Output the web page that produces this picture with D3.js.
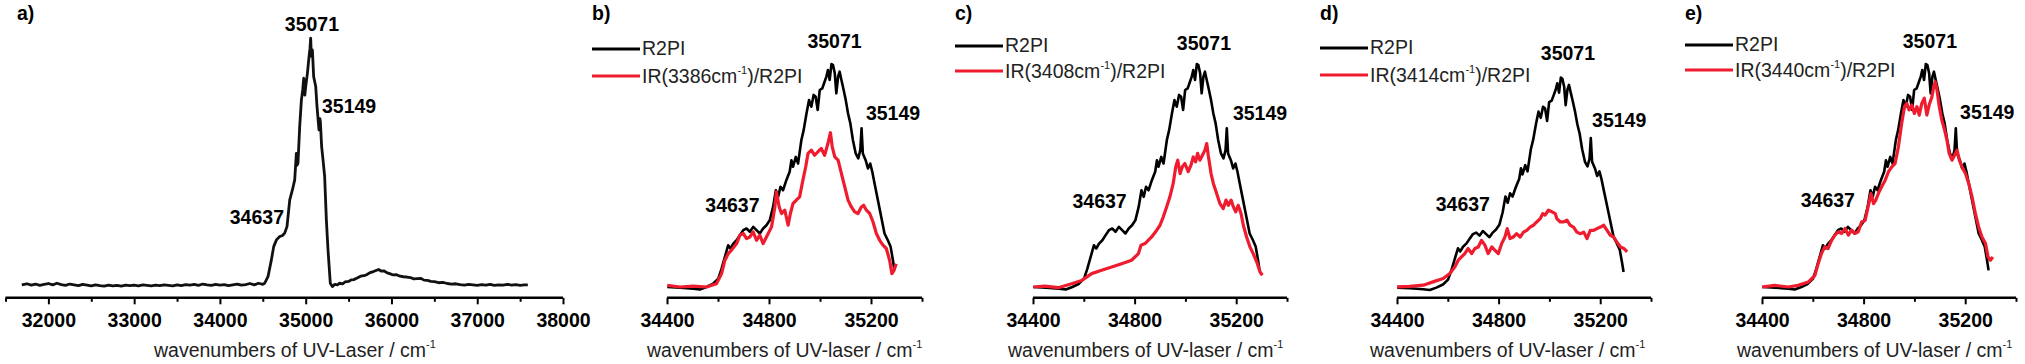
<!DOCTYPE html>
<html>
<head>
<meta charset="utf-8">
<script src="https://cdn.jsdelivr.net/npm/d3@7"></script>
<style>
  body { margin: 0; background: #fff; }
  svg { display: block; font-family: "Liberation Sans", Arial, sans-serif; }
</style>
</head>
<body>
<script>
// ---- data (wavenumber / cm-1, intensity in arb. units, R2PI peak = 100) ----
const spectrumA = [
  [31690,5.0],[31750,5.4],[31800,4.9],[31850,5.3],[31900,4.8],[31950,5.2],[32000,5.5],[32050,5.0],[32100,5.6],[32150,5.1],
  [32200,4.8],[32250,5.3],[32300,5.0],[32350,4.7],[32400,5.2],[32450,4.9],[32500,4.6],[32550,5.0],[32600,4.7],[32650,4.5],
  [32700,4.9],[32750,4.6],[32800,4.8],[32850,4.5],[32900,4.9],[32950,4.7],[33000,4.9],[33050,4.6],[33100,5.0],[33150,4.8],
  [33200,4.6],[33250,4.9],[33300,4.7],[33350,5.0],[33400,4.8],[33450,4.6],[33500,5.0],[33550,4.7],[33600,5.1],[33650,4.9],
  [33700,5.2],[33750,4.8],[33800,5.3],[33850,5.0],[33900,4.8],[33950,5.2],[34000,4.9],[34050,5.1],[34100,4.7],[34150,5.0],
  [34200,5.3],[34250,4.9],[34300,5.1],[34350,5.5],[34400,5.0],[34450,5.6],[34500,5.2],
  [34522,5.6],[34561,8.2],[34600,14.6],[34627,19.7],[34659,22.3],[34697,23.6],[34730,24.0],[34755,24.9],[34782,27.4],
  [34814,37.7],[34845,41.5],[34872,45.4],[34891,55.6],[34900,51.0],[34910,51.8],[34930,65.9],[34950,76.2],[34965,80.0],
  [34977,84.5],[34990,78.0],[35000,81.3],[35020,86.4],[35039,92.8],[35050,96.0],[35058,99.9],[35066,93.0],[35078,95.4],
  [35093,85.1],[35117,81.3],[35132,73.6],[35155,64.6],[35165,69.0],[35171,67.8],[35186,58.2],[35202,53.1],[35221,46.7],
  [35241,30.0],[35260,18.5],[35287,5.6],[35311,4.3],
  [35340,5.2],[35370,5.0],[35396,5.6],[35430,5.4],[35460,6.1],[35500,6.3],[35530,6.9],[35560,7.0],[35600,7.6],[35640,8.3],
  [35680,8.5],[35710,8.9],[35750,9.7],[35790,10.1],[35820,10.5],[35850,10.9],[35880,10.3],[35910,10.4],[35950,9.6],[35980,9.3],
  [36020,8.8],[36060,8.9],[36100,8.3],[36140,8.1],[36180,8.0],[36220,7.8],[36260,7.3],[36300,7.4],[36340,7.5],[36380,6.8],
  [36420,6.7],[36460,6.3],[36500,6.2],[36550,5.8],[36600,5.9],[36650,5.5],[36700,5.3],[36750,5.4],[36800,5.1],[36850,4.9],
  [36900,5.2],[36950,5.0],[37000,4.8],[37050,5.1],[37100,4.9],[37150,5.2],[37200,4.8],[37250,5.0],[37300,4.9],[37350,5.2],
  [37400,4.9],[37450,5.1],[37500,4.8],[37550,5.0],[37590,5.0]
];

const r2pi = [
  [34401,4.6],[34451,4.3],[34503,3.9],[34529,3.5],[34555,4.6],[34581,6.0],[34601,8.2],[34614,12.4],[34627,17.4],[34640,22.4],
  [34649,21.0],[34660,23.1],[34673,24.5],[34686,26.7],[34699,28.8],[34712,29.5],[34725,28.1],[34738,30.2],[34751,28.8],[34764,27.4],
  [34777,29.5],[34790,30.9],[34803,33.0],[34816,38.7],[34827,45.8],[34836,43.0],[34845,47.3],[34855,45.8],[34868,50.1],[34881,53.7],
  [34888,58.6],[34894,55.8],[34905,60.0],[34914,57.2],[34927,67.2],[34936,71.4],[34947,78.5],[34957,84.2],[34966,81.4],[34975,86.4],
  [34983,85.6],[34991,80.0],[34999,88.5],[35009,89.2],[35018,92.0],[35025,94.2],[35031,97.0],[35038,92.8],[35045,99.6],[35051,99.1],
  [35058,95.6],[35064,87.1],[35071,94.2],[35077,96.3],[35084,92.8],[35090,89.9],[35101,84.2],[35110,78.5],[35119,74.3],[35129,67.2],
  [35140,61.5],[35150,59.4],[35158,62.9],[35163,72.2],[35168,61.5],[35179,58.6],[35188,55.1],[35197,57.2],[35205,53.7],[35214,48.7],
  [35227,41.6],[35240,34.5],[35253,27.4],[35266,24.5],[35277,21.7],[35286,16.0],[35292,11.7]
];

const ir3386 = [
  [34401,5.3],[34451,4.6],[34503,5.0],[34555,4.6],[34594,6.0],[34614,10.3],[34627,16.0],[34640,18.8],[34653,20.3],[34673,23.1],
  [34686,26.7],[34699,27.4],[34712,25.2],[34725,25.9],[34738,28.1],[34751,24.5],[34764,26.7],[34777,23.1],[34790,25.9],[34810,30.2],
  [34823,38.7],[34829,45.1],[34840,38.7],[34849,35.9],[34862,37.3],[34875,30.9],[34884,35.9],[34894,40.1],[34907,41.6],[34920,43.0],
  [34933,50.1],[34944,55.8],[34953,61.5],[34966,62.9],[34979,60.7],[34992,62.2],[35005,63.6],[35018,60.7],[35031,65.7],[35041,70.3],
  [35048,64.3],[35058,60.0],[35071,58.6],[35084,52.9],[35097,47.3],[35110,41.6],[35123,38.7],[35136,36.6],[35149,35.9],[35162,38.7],
  [35171,39.4],[35182,37.3],[35195,35.9],[35208,32.3],[35221,27.4],[35234,24.5],[35247,22.4],[35260,21.0],[35273,16.0],[35282,10.3],
  [35290,11.7],[35299,14.5]
];

const ir3408 = [
  [34401,4.6],[34447,5.0],[34500,4.3],[34552,6.0],[34592,7.4],[34631,10.3],[34670,11.7],[34710,13.1],[34749,14.5],[34788,16.0],
  [34815,18.8],[34825,22.4],[34841,23.1],[34867,25.9],[34887,28.8],[34900,30.9],[34913,34.5],[34926,38.7],[34939,43.0],[34952,48.7],
  [34962,55.8],[34970,58.6],[34979,52.9],[34988,55.8],[34998,57.2],[35011,53.7],[35022,56.5],[35031,60.0],[35040,57.9],[35048,61.5],
  [35057,58.6],[35067,60.7],[35077,62.9],[35084,65.7],[35090,60.7],[35101,52.9],[35110,48.7],[35123,44.4],[35136,40.1],[35149,38.0],
  [35160,41.6],[35169,39.4],[35180,41.6],[35189,38.7],[35198,36.6],[35208,39.4],[35219,35.9],[35228,30.9],[35241,25.9],[35254,21.7],
  [35267,18.8],[35281,15.2],[35294,11.0],[35303,9.6]
];

const ir3414 = [
  [34400,4.9],[34450,5.2],[34503,5.7],[34542,7.2],[34582,8.7],[34608,11.0],[34628,14.0],[34641,17.0],[34654,18.5],[34667,20.0],
  [34680,22.3],[34694,20.0],[34707,22.3],[34720,23.0],[34733,26.0],[34746,23.8],[34759,20.0],[34773,23.0],[34786,21.5],[34799,20.0],
  [34812,24.5],[34825,27.5],[34834,31.3],[34845,26.8],[34858,27.5],[34871,29.0],[34885,27.5],[34898,29.7],[34911,30.5],[34924,32.0],
  [34937,32.8],[34950,34.3],[34964,35.8],[34974,38.1],[34983,37.4],[34996,39.6],[35010,38.9],[35023,38.1],[35029,35.8],[35043,34.3],
  [35056,34.3],[35069,35.1],[35082,32.8],[35095,32.0],[35108,29.7],[35122,29.0],[35135,29.7],[35148,26.8],[35161,30.5],[35174,30.5],
  [35187,31.3],[35201,32.0],[35214,32.8],[35227,30.5],[35240,28.3],[35253,27.5],[35266,25.2],[35280,23.0],[35293,22.3],[35306,20.8]
];

const ir3440 = [
  [34400,4.6],[34450,5.3],[34503,4.6],[34542,5.3],[34582,6.7],[34608,9.5],[34621,14.5],[34634,18.8],[34647,21.7],[34660,21.0],
  [34674,24.5],[34687,26.7],[34700,28.1],[34714,27.4],[34727,29.5],[34740,26.7],[34753,28.8],[34766,27.4],[34779,28.1],[34792,32.3],
  [34806,33.0],[34819,39.4],[34829,44.4],[34839,40.1],[34848,41.6],[34858,44.4],[34871,47.3],[34885,50.1],[34898,53.7],[34911,55.8],
  [34924,57.2],[34937,64.3],[34950,74.3],[34961,81.4],[34970,82.8],[34979,80.0],[34990,82.1],[35000,78.5],[35010,81.4],[35019,77.8],
  [35029,82.8],[35039,85.0],[35049,77.8],[35058,82.1],[35069,85.6],[35076,89.9],[35082,92.0],[35089,88.5],[35098,81.4],[35108,75.7],
  [35119,71.4],[35128,67.2],[35137,61.5],[35148,58.6],[35158,60.7],[35168,62.9],[35177,58.6],[35187,55.8],[35201,52.9],[35214,48.7],
  [35227,43.0],[35240,35.9],[35253,30.2],[35266,25.9],[35280,23.1],[35290,17.4],[35299,16.0],[35309,17.4]
];

const panelNames = ['a)', 'b)', 'c)', 'd)', 'e)'];
const irLegends = ['3386', '3408', '3414', '3440'];
const irSeries = [ir3386, ir3408, ir3414, ir3440];
const peakLabels = ['35071', '35149', '34637'];
// label anchor points in data space per panel: [wavenumber, intensity]
const peakAnchors = [
  [[35073, 102.7], [35190, 71.3], [34747, 28.5]],
  [[35057, 106.4], [35180, 75.7], [34763, 36.6]],
  [[35073, 105.5], [35187, 75.7], [34769, 38.2]],
  [[35073, 107.6], [35168, 77.2], [34766, 39.4]],
  [[35061, 106.4], [35180, 76.0], [34766, 38.7]]
];

// ---- layout ----
const W = 2025, H = 364;
const AXIS_Y = 297.8;
const RED = '#ee1c2e';
const FONT = 19.5;

const svg = d3.select('body').append('svg').attr('width', W).attr('height', H);

const layout = [
  { x0: 5.5,  x1: 563,  domain: [31500, 38000], top: 38,   labelX: 17,   titleX: 154,  title: 'wavenumbers of UV-Laser / cm',
    major: d3.range(32000, 38001, 1000), minor: d3.range(31500, 38000, 1000), fmt: d => d },
  { x0: 667,  x1: 922,  domain: [34400, 35400], top: 63,   labelX: 592,  titleX: 647,  legY: [55, 83] },
  { x0: 1033, x1: 1287, domain: [34400, 35400], top: 63,   labelX: 955,  titleX: 1008, legY: [52, 78] },
  { x0: 1397, x1: 1651, domain: [34400, 35400], top: 76.7, labelX: 1320, titleX: 1370, legY: [54, 82] },
  { x0: 1762, x1: 2016, domain: [34400, 35400], top: 63,   labelX: 1685, titleX: 1737, legY: [51, 77] }
];
layout.slice(1).forEach(p => {
  p.title = 'wavenumbers of UV-laser / cm';
  p.major = [34400, 34800, 35200];
  p.minor = [34600, 35000, 35400];
  p.fmt = d => d;
});

layout.forEach((p, i) => {
  const x = d3.scaleLinear().domain(p.domain).range([p.x0, p.x1]);
  const y = d3.scaleLinear().domain([0, 100]).range([AXIS_Y, p.top]);
  const g = svg.append('g');

  // axis: minor ticks, then major ticks with labels
  g.append('g').attr('transform', `translate(0,${AXIS_Y})`)
    .call(d3.axisBottom(x).tickValues(p.minor).tickSize(4).tickSizeOuter(0).tickFormat(''))
    .call(a => a.select('.domain').remove());
  const ax = g.append('g').attr('transform', `translate(0,${AXIS_Y})`)
    .call(d3.axisBottom(x).tickValues(p.major).tickSize(6.5).tickPadding(9).tickSizeOuter(0).tickFormat(p.fmt));
  ax.select('.domain').attr('stroke-width', 2.4).attr('d', `M${p.x0},0H${p.x1}`);
  g.selectAll('.tick line').attr('stroke-width', 2);
  ax.selectAll('.tick text').attr('font-size', FONT).attr('font-weight', 'bold').attr('fill', '#000')
    .attr('font-family', '"Liberation Sans", Arial, sans-serif');

  // axis title
  const t = g.append('text').attr('x', p.titleX).attr('y', 357).attr('font-size', FONT).attr('fill', '#222');
  t.append('tspan').text(p.title);
  t.append('tspan').attr('dy', -9).attr('font-size', 11).text('-1');

  // panel label
  g.append('text').attr('x', p.labelX).attr('y', 20).attr('font-size', FONT).attr('font-weight', 'bold').text(panelNames[i]);

  const line = d3.line().x(d => x(d[0])).y(d => y(d[1]));

  if (i === 0) {
    g.append('path').datum(spectrumA).attr('d', line)
      .attr('fill', 'none').attr('stroke', '#111').attr('stroke-width', 2.8).attr('stroke-linejoin', 'round');
  } else {
    g.append('path').datum(r2pi).attr('d', line)
      .attr('fill', 'none').attr('stroke', '#000').attr('stroke-width', 2.6).attr('stroke-linejoin', 'round');
    g.append('path').datum(irSeries[i - 1]).attr('d', line)
      .attr('fill', 'none').attr('stroke', RED).attr('stroke-width', 3.2).attr('stroke-linejoin', 'round');

    // legend
    const lx0 = p.labelX, lx1 = p.labelX + 48;
    g.append('line').attr('x1', lx0).attr('x2', lx1).attr('y1', p.legY[0] - 6).attr('y2', p.legY[0] - 6)
      .attr('stroke', '#000').attr('stroke-width', 3);
    g.append('line').attr('x1', lx0).attr('x2', lx1).attr('y1', p.legY[1] - 7).attr('y2', p.legY[1] - 7)
      .attr('stroke', RED).attr('stroke-width', 3.2);
    g.append('text').attr('x', lx1 + 2).attr('y', p.legY[0]).attr('font-size', FONT).attr('fill', '#222').text('R2PI');
    const lt = g.append('text').attr('x', lx1 + 2).attr('y', p.legY[1]).attr('font-size', FONT).attr('fill', '#222');
    lt.append('tspan').text(`IR(${irLegends[i - 1]}cm`);
    lt.append('tspan').attr('dy', -9).attr('font-size', 11).text('-1');
    lt.append('tspan').attr('dy', 9).text(')/R2PI');
  }

  // peak labels
  const anchors = ['middle', 'start', 'end'];
  peakLabels.forEach((lab, k) => {
    const a = peakAnchors[i][k];
    g.append('text').attr('x', x(a[0])).attr('y', y(a[1]))
      .attr('text-anchor', anchors[k]).attr('font-size', FONT).attr('font-weight', 'bold').text(lab);
  });
});
</script>
</body>
</html>
